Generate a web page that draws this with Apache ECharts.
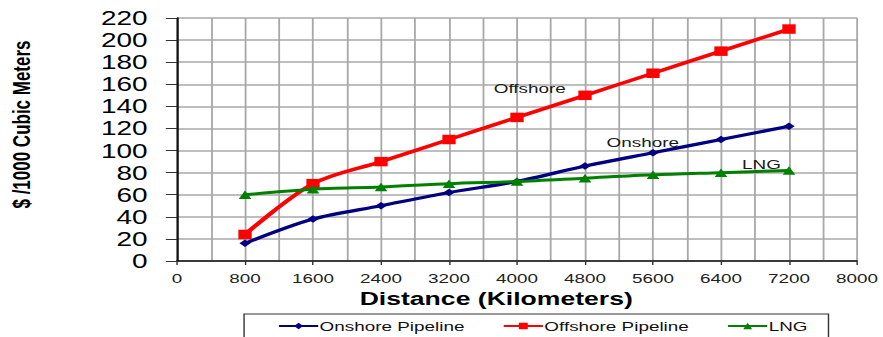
<!DOCTYPE html>
<html>
<head>
<meta charset="utf-8">
<script src="https://cdn.jsdelivr.net/npm/echarts@6/dist/echarts.min.js"></script>
<style>
  html, body { margin: 0; padding: 0; background: #fff; overflow: hidden; }
  #wrap { width: 883px; height: 337px; overflow: hidden; }
  /* the chart is laid out narrow and widened, giving the broad lettering and markers */
  #chart { width: 631px; height: 337px; transform: scaleX(1.3994); transform-origin: 0 0; }
</style>
</head>
<body>
<div id="wrap"><div id="chart"></div></div>
<script>
// Distance in kilometres
const distances = [800, 1600, 2400, 3200, 4000, 4800, 5600, 6400, 7200];
// Transport cost, $ per 1000 cubic metres
const onshore  = [16, 38, 50, 62, 72, 86, 98, 110, 122];
const offshore = [24, 70, 90, 110, 130, 150, 170, 190, 210];
const lng      = [60, 65, 67, 70, 72, 75, 78, 80, 82];

const seriesNames = ['Onshore Pipeline', 'Offshore Pipeline', 'LNG'];
const curveLabels = ['Onshore', 'Offshore', 'LNG'];

const xMax = 8000, xStep = 800;
const yMax = 220, yStep = 20;

const FONT = 'Liberation Sans, Arial, sans-serif';

function pairs(vals) { return distances.map((d, i) => [d, vals[i]]); }

function curveTag(text, at) {
  return {
    symbol: 'rect', symbolSize: 1,
    itemStyle: { color: 'rgba(0,0,0,0)' },
    label: { show: true, position: 'inside', formatter: text,
             color: '#1a1a1a', fontSize: 13.5, fontFamily: FONT },
    data: [{ coord: at }],
    animation: false
  };
}

const chart = echarts.init(document.getElementById('chart'), null, { renderer: 'svg' });

chart.setOption({
  animation: false,
  backgroundColor: '#fff',
  grid: { left: 126.5, right: 18.6, top: 18, bottom: 76 },
  xAxis: {
    type: 'value', min: 0, max: xMax, interval: xStep,
    axisLine: { show: true, lineStyle: { color: '#111', width: 1.5 } },
    axisTick: { show: true, length: 4, lineStyle: { color: '#333' } },
    minorTick: { show: false, splitNumber: 2 },
    axisLabel: { color: '#222', fontSize: 13.5, fontFamily: FONT, margin: 10,
                 formatter: v => String(v) },
    splitLine: { show: true, lineStyle: { color: '#a8a8a8', width: 1.3 } },
    minorSplitLine: { show: true, lineStyle: { color: '#a8a8a8', width: 1.3 } }
  },
  yAxis: {
    type: 'value', min: 0, max: yMax, interval: yStep,
    axisLine: { show: true, lineStyle: { color: '#111', width: 1.5 } },
    axisTick: { show: true, length: 8, lineStyle: { color: '#333' } },
    axisLabel: { color: '#000', fontSize: 20, fontFamily: FONT, margin: 21 },
    splitLine: { show: true, lineStyle: { color: '#a8a8a8', width: 1.5 } }
  },
  legend: {
    data: seriesNames,
    left: 174.4, top: 314,
    padding: [5, 15, 20, 24],
    itemWidth: 28, itemHeight: 8, itemGap: 27,
    borderColor: '#333', borderWidth: 1, backgroundColor: '#fff',
    lineStyle: { width: 2 },
    textStyle: { color: '#111', fontSize: 13.5, fontFamily: FONT, padding: [0, 0, 0, -4] }
  },
  graphic: [
    {
      type: 'text', x: 15, y: 124.5, rotation: Math.PI / 2,
      style: { text: '$ /1000 Cubic Meters', fill: '#000', font: 'bold 17px ' + FONT,
               align: 'center', verticalAlign: 'middle' }
    },
    {
      type: 'text', x: 354.6, y: 298,
      style: { text: 'Distance (Kilometers)', fill: '#000', font: 'bold 19px ' + FONT,
               align: 'center', verticalAlign: 'middle' }
    }
  ],
  series: [
    {
      name: seriesNames[0], type: 'line', data: pairs(onshore), smooth: 0.3,
      symbol: 'diamond', symbolSize: [8, 7.5], showAllSymbol: true,
      lineStyle: { color: '#000080', width: 3.2 },
      itemStyle: { color: '#000080' },
      markPoint: curveTag(curveLabels[0], [5480, 107.7]),
      z: 3
    },
    {
      name: seriesNames[1], type: 'line', data: pairs(offshore), smooth: 0.3,
      symbol: 'rect', symbolSize: [9.5, 9.5], showAllSymbol: true,
      lineStyle: { color: '#ff0000', width: 3.5 },
      itemStyle: { color: '#ff0000' },
      markPoint: curveTag(curveLabels[1], [4150, 156.6]),
      z: 2
    },
    {
      name: seriesNames[2], type: 'line', data: pairs(lng), smooth: 0.3,
      symbol: 'triangle', symbolSize: [9, 8.5], showAllSymbol: true,
      lineStyle: { color: '#008000', width: 3 },
      itemStyle: { color: '#008000' },
      markPoint: curveTag(curveLabels[2], [6876, 87.8]),
      z: 4
    }
  ]
});
</script>
</body>
</html>
